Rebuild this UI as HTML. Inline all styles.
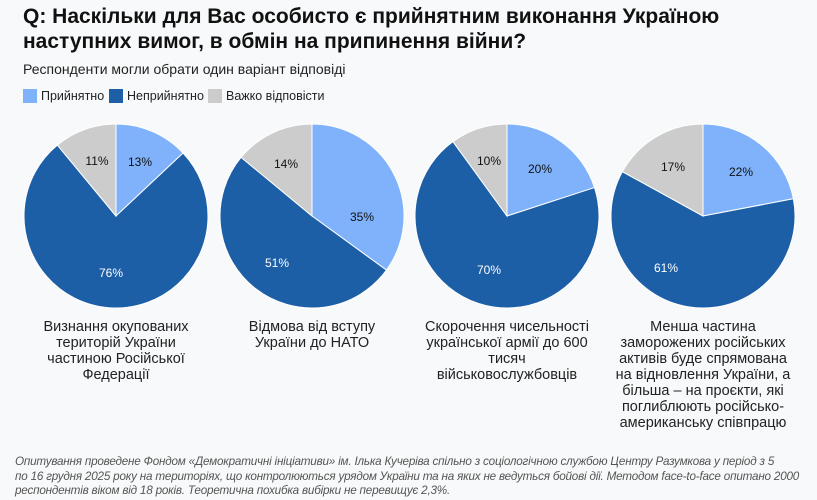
<!DOCTYPE html>
<html><head><meta charset="utf-8"><style>
body{margin:0;width:817px;height:500px;background:#f8f9fa;font-family:"Liberation Sans",sans-serif;color:#111;position:relative;overflow:hidden}
.t{position:absolute;left:23px;top:4px;font-size:21px;font-weight:bold;line-height:25px;color:#111}
.s{position:absolute;left:23px;top:61px;font-size:14px;color:#222}
.lg{position:absolute;top:89px;font-size:12.5px;color:#222;display:flex;align-items:center}
.lg i{display:inline-block;width:14px;height:14px;margin-right:4px}
.cap{position:absolute;top:319px;width:200px;text-align:center;font-size:14.5px;line-height:16px;color:#222;white-space:nowrap}
.f{position:absolute;left:15px;top:455px;width:800px;font-style:italic;font-size:11.7px;letter-spacing:-0.2px;line-height:14.5px;color:#555;white-space:nowrap}
svg{position:absolute;left:0;top:0}
</style></head><body>
<div class="t">Q: Наскільки для Вас особисто є прийнятним виконання Україною<br>наступних вимог, в обмін на припинення війни?</div>
<div class="s">Респонденти могли обрати один варіант відповіді</div>
<div class="lg" style="left:23px"><i style="background:#7fb2fb"></i>Прийнятно</div>
<div class="lg" style="left:109px"><i style="background:#1c5fa6"></i>Неприйнятно</div>
<div class="lg" style="left:208px"><i style="background:#cccccc"></i>Важко відповісти</div>
<svg id="sv" width="817" height="500" font-family="Liberation Sans, sans-serif" font-size="12"></svg>
<div class="cap" style="left:16px">Визнання окупованих<br>територій України<br>частиною Російської<br>Федерації</div>
<div class="cap" style="left:212px">Відмова від вступу<br>України до НАТО</div>
<div class="cap" style="left:407px">Скорочення чисельності<br>української армії до 600<br>тисяч<br>військовослужбовців</div>
<div class="cap" style="left:603px">Менша частина<br>заморожених російських<br>активів буде спрямована<br>на відновлення України, а<br>більша – на проєкти, які<br>поглиблюють російсько-<br>американську співпрацю</div>
<div class="f">Опитування проведене Фондом «Демократичні ініціативи» ім. Ілька Кучеріва спільно з соціологічною службою Центру Разумкова у період з 5<br>по 16 грудня 2025 року на територіях, що контролюються урядом України та на яких не ведуться бойові дії. Методом face-to-face опитано 2000<br>респондентів віком від 18 років. Теоретична похибка вибірки не перевищує 2,3%.</div>
<script>
var pies=[[116,[13,76,11],[[140,162],[111,273],[97,161]]],[312,[35,51,14],[[362,217],[277,263],[286,164]]],[507,[20,70,10],[[540,169],[489,270],[489,161]]],[703,[22,61,17],[[741,172],[666,268],[673,167]]]];
var cols=["#7fb2fb","#1c5fa6","#cccccc"],tc=["#111","#fff","#111"];
var cy=216,r=92,h="";
pies.forEach(function(p){var cx=p[0],a=0,tot=p[1][0]+p[1][1]+p[1][2];
p[1].forEach(function(v,i){var a0=a/tot*2*Math.PI,a1=(a+v)/tot*2*Math.PI;a+=v;
var x0=cx+r*Math.sin(a0),y0=cy-r*Math.cos(a0),x1=cx+r*Math.sin(a1),y1=cy-r*Math.cos(a1);
h+='<path d="M'+cx+','+cy+'L'+x0+','+y0+'A'+r+','+r+' 0 '+((a1-a0)>Math.PI?1:0)+' 1 '+x1+','+y1+'Z" fill="'+cols[i]+'" stroke="#fff" stroke-width="1"/>';});
p[2].forEach(function(q,i){h+='<text x="'+q[0]+'" y="'+(q[1]+4)+'" text-anchor="middle" fill="'+tc[i]+'">'+p[1][i]+'%</text>';});});
document.getElementById("sv").innerHTML=h;
</script>
</body></html>
